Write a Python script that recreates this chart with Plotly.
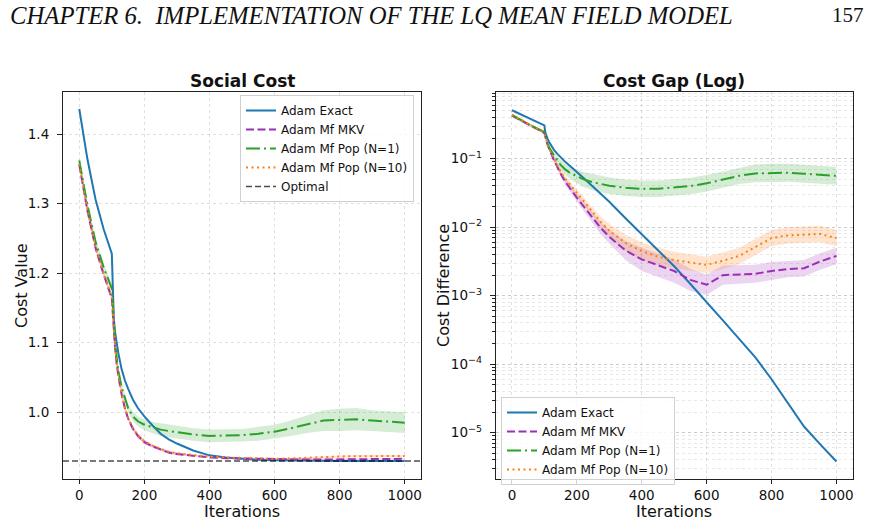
import plotly.graph_objects as go

# ---------------- data ----------------
ITERS = [0, 25, 50, 75, 100, 103, 106, 110, 115, 120, 130, 140, 150, 165, 180,
         200, 225, 250, 275, 300, 350, 400, 450, 500, 550, 600, 650, 700, 750,
         800, 850, 900, 950, 1000]

OPTIMAL_COST = 0.93

# Social cost (left panel)
COST_EXACT = [1.436, 1.364, 1.306, 1.263, 1.228, 1.165, 1.135, 1.115, 1.099, 1.085,
              1.062, 1.046, 1.034, 1.018, 1.006, 0.994, 0.981, 0.969, 0.961, 0.955,
              0.945, 0.938, 0.935, 0.933, 0.9315, 0.931, 0.9305, 0.930, 0.930,
              0.930, 0.930, 0.930, 0.930, 0.930]
COST_MKV = [1.356, 1.290, 1.236, 1.198, 1.164, 1.140, 1.115, 1.092, 1.070, 1.052,
            1.026, 1.006, 0.991, 0.976, 0.966, 0.957, 0.951, 0.946, 0.942, 0.940,
            0.937, 0.935, 0.934, 0.9335, 0.933, 0.932, 0.932, 0.932, 0.932,
            0.932, 0.9325, 0.9325, 0.933, 0.933]
COST_POP1 = [1.362, 1.298, 1.245, 1.208, 1.178, 1.152, 1.127, 1.102, 1.078, 1.060,
             1.036, 1.019, 1.006, 0.994, 0.987, 0.982, 0.978, 0.975, 0.973, 0.971,
             0.968, 0.966, 0.966, 0.967, 0.969, 0.972, 0.977, 0.983, 0.988,
             0.989, 0.990, 0.988, 0.986, 0.985]
COST_POP10 = [1.357, 1.291, 1.237, 1.199, 1.166, 1.141, 1.116, 1.093, 1.071, 1.053,
              1.027, 1.007, 0.992, 0.977, 0.967, 0.958, 0.952, 0.947, 0.943, 0.941,
              0.938, 0.936, 0.935, 0.934, 0.9335, 0.933, 0.9335, 0.934, 0.9355,
              0.9365, 0.937, 0.937, 0.937, 0.937]
COST_STD_MKV = [0.004, 0.004, 0.004, 0.004, 0.004, 0.004, 0.004, 0.004, 0.004, 0.004,
                0.004, 0.004, 0.003, 0.003, 0.003, 0.003, 0.002, 0.002, 0.002, 0.002,
                0.001, 0.001, 0.001, 0.001, 0.001, 0.001, 0.001, 0.001, 0.001,
                0.001, 0.001, 0.001, 0.001, 0.001]
COST_STD_POP1 = [0.006, 0.006, 0.006, 0.006, 0.006, 0.006, 0.006, 0.006, 0.006, 0.006,
                 0.006, 0.006, 0.006, 0.007, 0.007, 0.008, 0.008, 0.009, 0.009, 0.009,
                 0.009, 0.009, 0.009, 0.009, 0.010, 0.010, 0.011, 0.013, 0.015,
                 0.016, 0.016, 0.015, 0.015, 0.015]
COST_STD_POP10 = [0.004, 0.004, 0.004, 0.004, 0.004, 0.004, 0.004, 0.004, 0.004, 0.004,
                  0.004, 0.004, 0.003, 0.003, 0.003, 0.003, 0.002, 0.002, 0.002, 0.002,
                  0.001, 0.001, 0.001, 0.001, 0.001, 0.001, 0.001, 0.0015, 0.0015,
                  0.0015, 0.0015, 0.0015, 0.0015, 0.0015]

# Cost gap, log10 values (right panel)
GAP_EXACT_LOG10 = [-0.293, -0.348, -0.400, -0.455, -0.515, -0.620, -0.665, -0.710, -0.760,
                   -0.800, -0.875, -0.930, -0.980, -1.050, -1.110, -1.190, -1.300, -1.410,
                   -1.520, -1.630, -1.870, -2.100, -2.330, -2.570, -2.830, -3.090, -3.360,
                   -3.630, -3.900, -4.220, -4.560, -4.910, -5.170, -5.420]
GAP_MKV_LOG10 = [-0.370, -0.435, -0.500, -0.560, -0.625, -0.680, -0.740, -0.800, -0.860,
                 -0.920, -1.030, -1.120, -1.220, -1.340, -1.440, -1.570, -1.720, -1.870,
                 -2.020, -2.140, -2.340, -2.470, -2.560, -2.640, -2.770, -2.840, -2.700,
                 -2.690, -2.680, -2.640, -2.610, -2.600, -2.500, -2.420]
GAP_POP1_LOG10 = [-0.360, -0.430, -0.495, -0.555, -0.610, -0.660, -0.720, -0.780, -0.840,
                  -0.880, -0.960, -1.030, -1.090, -1.160, -1.210, -1.260, -1.310, -1.345,
                  -1.375, -1.395, -1.425, -1.440, -1.440, -1.425, -1.400, -1.360, -1.310,
                  -1.250, -1.215, -1.205, -1.205, -1.220, -1.240, -1.250]
GAP_POP10_LOG10 = [-0.362, -0.428, -0.490, -0.552, -0.620, -0.675, -0.735, -0.795, -0.855,
                   -0.910, -1.010, -1.100, -1.190, -1.300, -1.390, -1.500, -1.640, -1.790,
                   -1.930, -2.050, -2.230, -2.350, -2.430, -2.480, -2.510, -2.550, -2.490,
                   -2.420, -2.290, -2.160, -2.120, -2.110, -2.100, -2.160]
GAP_SPREAD_MKV = [0.02, 0.02, 0.02, 0.02, 0.02, 0.02, 0.02, 0.02, 0.02, 0.03,
                  0.03, 0.04, 0.04, 0.05, 0.05, 0.06, 0.07, 0.08, 0.09, 0.10,
                  0.14, 0.17, 0.17, 0.17, 0.16, 0.15, 0.14, 0.13, 0.13,
                  0.13, 0.12, 0.12, 0.12, 0.12]
GAP_SPREAD_POP1 = [0.02, 0.02, 0.02, 0.02, 0.02, 0.02, 0.03, 0.03, 0.04, 0.04,
                   0.05, 0.06, 0.07, 0.08, 0.09, 0.10, 0.11, 0.12, 0.12, 0.12,
                   0.12, 0.12, 0.12, 0.12, 0.12, 0.12, 0.12, 0.12, 0.13,
                   0.13, 0.13, 0.13, 0.13, 0.13]
GAP_SPREAD_POP10 = [0.02, 0.02, 0.02, 0.02, 0.02, 0.02, 0.02, 0.02, 0.02, 0.03,
                    0.03, 0.03, 0.04, 0.04, 0.05, 0.05, 0.06, 0.07, 0.08, 0.10,
                    0.12, 0.13, 0.13, 0.12, 0.12, 0.12, 0.12, 0.12, 0.12,
                    0.12, 0.12, 0.12, 0.12, 0.12]

X_TICKS = [0, 200, 400, 600, 800, 1000]
COST_TICKS = [1.0, 1.1, 1.2, 1.3, 1.4]
GAP_TICK_EXP = [-5, -4, -3, -2, -1]

NAMES = ["Adam Exact", "Adam Mf MKV", "Adam Mf Pop (N=1)", "Adam Mf Pop (N=10)", "Optimal"]

# ---------------- styling ----------------
C_BLUE = "#1f77b4"
C_PURPLE = "#9b2fb5"
C_GREEN = "#2ca02c"
C_ORANGE = "#ff7f0e"
FILL = {C_PURPLE: "rgba(155,47,181,0.2)", C_GREEN: "rgba(44,160,44,0.2)",
        C_ORANGE: "rgba(255,127,14,0.2)"}
DASH_MKV = "8px,3.5px"
DASH_DD = "14px,4px,2px,4px"
DASH_DOT = "2px,3.5px"
FONT = "DejaVu Sans"

fig = go.Figure()


def band(xa, ya, upper, lower, color):
    fig.add_trace(go.Scatter(x=ITERS, y=upper, mode="lines", line=dict(width=0),
                             showlegend=False, hoverinfo="skip", xaxis=xa, yaxis=ya))
    fig.add_trace(go.Scatter(x=ITERS, y=lower, mode="lines", line=dict(width=0),
                             fill="tonexty", fillcolor=FILL[color], showlegend=False,
                             hoverinfo="skip", xaxis=xa, yaxis=ya))


# Left panel bands
for vals, sd, col in [(COST_MKV, COST_STD_MKV, C_PURPLE),
                      (COST_POP1, COST_STD_POP1, C_GREEN),
                      (COST_POP10, COST_STD_POP10, C_ORANGE)]:
    band("x", "y", [v + s for v, s in zip(vals, sd)], [v - s for v, s in zip(vals, sd)], col)

# Right panel bands
for vals, sd, col in [(GAP_MKV_LOG10, GAP_SPREAD_MKV, C_PURPLE),
                      (GAP_POP1_LOG10, GAP_SPREAD_POP1, C_GREEN),
                      (GAP_POP10_LOG10, GAP_SPREAD_POP10, C_ORANGE)]:
    band("x2", "y2", [10 ** (v + s) for v, s in zip(vals, sd)],
         [10 ** (v - s) for v, s in zip(vals, sd)], col)

styles = [dict(color=C_BLUE, width=2),
          dict(color=C_PURPLE, width=2, dash=DASH_MKV),
          dict(color=C_GREEN, width=2, dash=DASH_DD),
          dict(color=C_ORANGE, width=2, dash=DASH_DOT)]

for name, vals, st in zip(NAMES[:4], [COST_EXACT, COST_MKV, COST_POP1, COST_POP10], styles):
    fig.add_trace(go.Scatter(x=ITERS, y=vals, mode="lines", name=name, line=st,
                             xaxis="x", yaxis="y", legend="legend"))
fig.add_trace(go.Scatter(x=[-50, 1050], y=[OPTIMAL_COST, OPTIMAL_COST], mode="lines",
                         name=NAMES[4], line=dict(color="rgba(0,0,0,0.7)", width=1.5, dash="6px,3px"),
                         xaxis="x", yaxis="y", legend="legend"))

for name, vals, st in zip(NAMES[:4], [GAP_EXACT_LOG10, GAP_MKV_LOG10, GAP_POP1_LOG10, GAP_POP10_LOG10], styles):
    fig.add_trace(go.Scatter(x=ITERS, y=[10 ** v for v in vals], mode="lines", name=name,
                             line=st, xaxis="x2", yaxis="y2", legend="legend2"))

W, H = 874, 522
GRID = "rgba(0,0,0,0.12)"
common_axis = dict(showline=True, mirror=True, linecolor="#222", linewidth=1.1,
                   ticks="outside", tickwidth=1, tickcolor="#222",
                   showgrid=True, gridcolor=GRID, griddash="dot", gridwidth=1,
                   zeroline=False, tickfont=dict(family=FONT, size=13.5, color="#111"))
x_axis = dict(ticklen=4, **common_axis)
y_axis = dict(ticklen=5, ticklabelstandoff=5, **common_axis)

fig.update_layout(
    width=W, height=H, margin=dict(l=0, r=0, t=0, b=0),
    paper_bgcolor="white", plot_bgcolor="white", showlegend=True,
    xaxis=dict(domain=[63 / W, 421 / W], range=[-50, 1050], tickvals=X_TICKS,
               anchor="y", **x_axis),
    yaxis=dict(domain=[43 / H, 429.7 / H], range=[0.904, 1.460], tickvals=COST_TICKS,
               ticktext=["%.1f" % t for t in COST_TICKS], anchor="x", **y_axis),
    xaxis2=dict(domain=[495.7 / W, 852.7 / W], range=[-50, 1050], tickvals=X_TICKS,
                anchor="y2", **x_axis),
    yaxis2=dict(domain=[43 / H, 429.7 / H], type="log", range=[-5.676, -0.031],
                tickvals=[10 ** e for e in GAP_TICK_EXP],
                ticktext=["10<sup>\u2212%d</sup>" % (-e) for e in GAP_TICK_EXP],
                minor=dict(dtick="D1", ticks="outside", ticklen=2.5, tickcolor="#222",
                           showgrid=True, gridcolor="rgba(0,0,0,0.09)", griddash="dot"),
                anchor="x2", **y_axis),
    legend=dict(x=414 / W, y=1 - 95 / H, xanchor="right", yanchor="top",
                traceorder="normal",
                bgcolor="rgba(255,255,255,0.8)", bordercolor="#d0d0d0", borderwidth=1,
                font=dict(family=FONT, size=12, color="#111"), itemwidth=30,
                tracegroupgap=0),
    legend2=dict(x=501 / W, y=1 - 397 / H, xanchor="left", yanchor="top",
                 traceorder="normal",
                 bgcolor="rgba(255,255,255,0.8)", bordercolor="#d0d0d0", borderwidth=1,
                 font=dict(family=FONT, size=12, color="#111"), itemwidth=30,
                 tracegroupgap=0),
)

ann = [
    dict(text="<b>Social Cost</b>", x=242 / W, y=1 - 81 / H, font=dict(size=17)),
    dict(text="<b>Cost Gap (Log)</b>", x=674 / W, y=1 - 81 / H, font=dict(size=17)),
    dict(text="Iterations", x=242 / W, y=1 - 511 / H, font=dict(size=16)),
    dict(text="Iterations", x=674 / W, y=1 - 511 / H, font=dict(size=16)),
    dict(text="Cost Value", x=21 / W, y=1 - 286 / H, font=dict(size=16), textangle=-90),
    dict(text="Cost Difference", x=443 / W, y=1 - 286 / H, font=dict(size=16), textangle=-90),
    dict(text="<i>CHAPTER 6.  IMPLEMENTATION OF THE LQ MEAN FIELD MODEL</i>",
         x=8 / W, y=1 - 15 / H, xanchor="left",
         font=dict(family="Liberation Serif", size=24.7)),
    dict(text="157", x=866 / W, y=1 - 15 / H, xanchor="right",
         font=dict(family="Liberation Serif", size=21)),
]
for a in ann:
    a.setdefault("xanchor", "center")
    f = a["font"]
    f.setdefault("family", FONT)
    f.setdefault("color", "#111")
    fig.add_annotation(xref="paper", yref="paper", yanchor="middle", showarrow=False, **a)

fig.write_html("out.html")
